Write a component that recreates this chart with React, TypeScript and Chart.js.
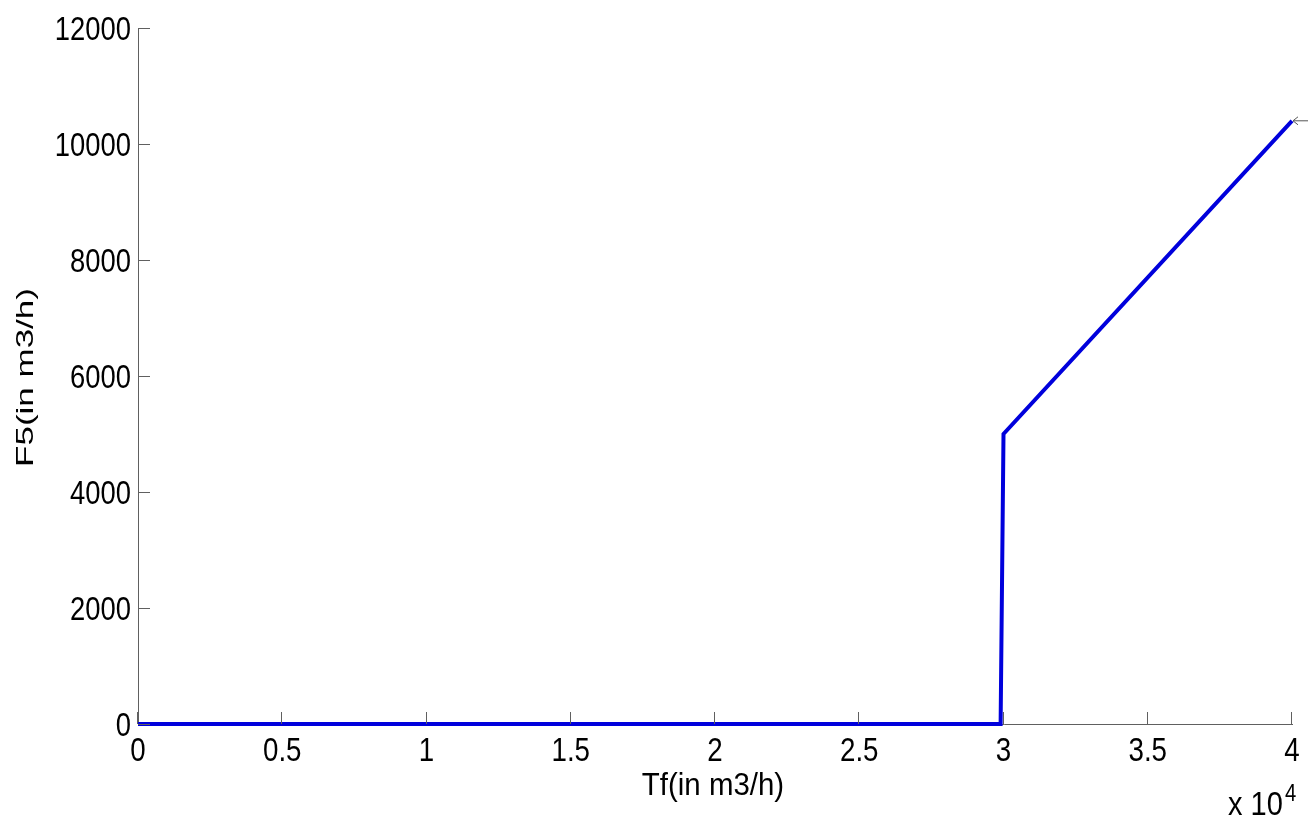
import React, { useEffect, useRef } from "react";
import { Chart, registerables } from "chart.js";

Chart.register(...registerables);

// F5 response against Tf (both in m3/h)
const tfValues = [0, 29900, 30000, 40000];
const f5Values = [0, 0, 5000, 10400];
const xTickValues = [0, 5000, 10000, 15000, 20000, 25000, 30000, 35000, 40000];
const xTickLabels = ["0", "0.5", "1", "1.5", "2", "2.5", "3", "3.5", "4"];
const yTickValues = [0, 2000, 4000, 6000, 8000, 10000, 12000];
const yTickLabels = ["0", "2000", "4000", "6000", "8000", "10000", "12000"];
const xTitle = "Tf(in m3/h)";
const yTitle = "F5(in m3/h)";
const xMultiplier = "x 10";
const xExponent = "4";

const FONT = "'Liberation Sans', Arial, Helvetica, sans-serif";
const AXIS_GREY = "#606060";

// Draws a string with a horizontal squeeze factor
function squeezedText(
  ctx: CanvasRenderingContext2D,
  text: string,
  x: number,
  y: number,
  size: number,
  sx: number,
  align: CanvasTextAlign
) {
  ctx.save();
  ctx.translate(x, y);
  ctx.scale(sx, 1);
  ctx.font = `${size}px ${FONT}`;
  ctx.textAlign = align;
  ctx.textBaseline = "alphabetic";
  ctx.fillText(text, 0, 0);
  ctx.restore();
}

// Inward tick marks, tick labels, axis titles, the x-axis multiplier and the end-point arrow
const decorations = {
  id: "decorations",
  afterDatasetsDraw(chart: any) {
    const { ctx, chartArea, scales } = chart;
    const x = scales.x;
    const y = scales.y;
    ctx.save();
    ctx.strokeStyle = AXIS_GREY;
    ctx.lineWidth = 1;
    ctx.beginPath();
    yTickValues.forEach((v) => {
      const py = Math.round(y.getPixelForValue(v)) + 0.5;
      ctx.moveTo(chartArea.left, py);
      ctx.lineTo(chartArea.left + 12, py);
    });
    xTickValues.forEach((v) => {
      const px = Math.round(x.getPixelForValue(v)) - 0.5;
      ctx.moveTo(px, chartArea.bottom);
      ctx.lineTo(px, chartArea.bottom - 12);
    });
    ctx.stroke();

    // arrow pointing at the last data point
    const lastX = x.getPixelForValue(tfValues[tfValues.length - 1]);
    const lastY = y.getPixelForValue(f5Values[f5Values.length - 1]);
    ctx.strokeStyle = "#555555";
    ctx.beginPath();
    ctx.moveTo(lastX + 1, lastY);
    ctx.lineTo(lastX + 16, lastY);
    ctx.moveTo(lastX + 1, lastY);
    ctx.lineTo(lastX + 6, lastY - 4);
    ctx.moveTo(lastX + 1, lastY);
    ctx.lineTo(lastX + 6, lastY + 4);
    ctx.stroke();

    ctx.fillStyle = "#000000";

    // y tick labels, right-aligned beside the axis
    yTickValues.forEach((v, i) => {
      const py = y.getPixelForValue(v);
      squeezedText(ctx, yTickLabels[i], chartArea.left - 7, py + 11.5, 33, 0.83, "right");
    });

    // x tick labels, centred under each tick
    xTickValues.forEach((v, i) => {
      const px = x.getPixelForValue(v);
      squeezedText(ctx, xTickLabels[i], px, chartArea.bottom + 37, 33, 0.84, "center");
    });

    // x-axis title
    squeezedText(ctx, xTitle, (chartArea.left + chartArea.right) / 2 - 2, chartArea.bottom + 71, 32, 0.92, "center");

    // y-axis title, rotated
    ctx.save();
    ctx.translate(33, (chartArea.top + chartArea.bottom) / 2 + 1.5);
    ctx.rotate(-Math.PI / 2);
    ctx.scale(1, 0.69);
    ctx.font = `35px ${FONT}`;
    ctx.textAlign = "center";
    ctx.textBaseline = "alphabetic";
    ctx.fillText(yTitle, 0, 0);
    ctx.restore();

    // "x 10^4" multiplier under the right end of the x-axis
    squeezedText(ctx, xMultiplier, 1228, 815, 33, 0.88, "left");
    squeezedText(ctx, xExponent, 1285, 801, 23, 0.88, "left");
    ctx.restore();
  },
};

export default function App() {
  const canvasRef = useRef<HTMLCanvasElement | null>(null);

  useEffect(() => {
    if (!canvasRef.current) return;
    const points = tfValues.map((t, i) => ({ x: t, y: f5Values[i] }));
    const chart = new Chart(canvasRef.current, {
      type: "scatter",
      data: {
        datasets: [
          {
            data: points,
            showLine: true,
            borderColor: "#0000dc",
            backgroundColor: "#0000dc",
            borderWidth: 4,
            pointRadius: 0,
            tension: 0,
            clip: false as any,
          },
        ],
      },
      options: {
        animation: false,
        responsive: false,
        devicePixelRatio: 1,
        layout: { padding: { left: 0, right: 22, top: 28, bottom: 0 } },
        plugins: { legend: { display: false }, tooltip: { enabled: false } },
        scales: {
          x: {
            type: "linear",
            min: 0,
            max: 40000,
            afterBuildTicks: (scale: any) => {
              scale.ticks = xTickValues.map((v) => ({ value: v }));
            },
            afterFit: (scale: any) => {
              scale.height = 94;
            },
            ticks: { display: false },
            grid: { display: false, drawTicks: false },
            border: { display: true, color: AXIS_GREY, width: 1 },
          },
          y: {
            type: "linear",
            min: 0,
            max: 12000,
            afterBuildTicks: (scale: any) => {
              scale.ticks = yTickValues.map((v) => ({ value: v }));
            },
            afterFit: (scale: any) => {
              scale.width = 138;
            },
            ticks: { display: false },
            grid: { display: false, drawTicks: false },
            border: { display: true, color: AXIS_GREY, width: 1 },
          },
        },
      },
      plugins: [decorations],
    });
    return () => chart.destroy();
  }, []);

  return (
    <div style={{ position: "fixed", left: 0, top: 0, width: 1314, height: 818, background: "#ffffff" }}>
      <canvas ref={canvasRef} width={1314} height={818} style={{ width: 1314, height: 818, display: "block" }} />
    </div>
  );
}
